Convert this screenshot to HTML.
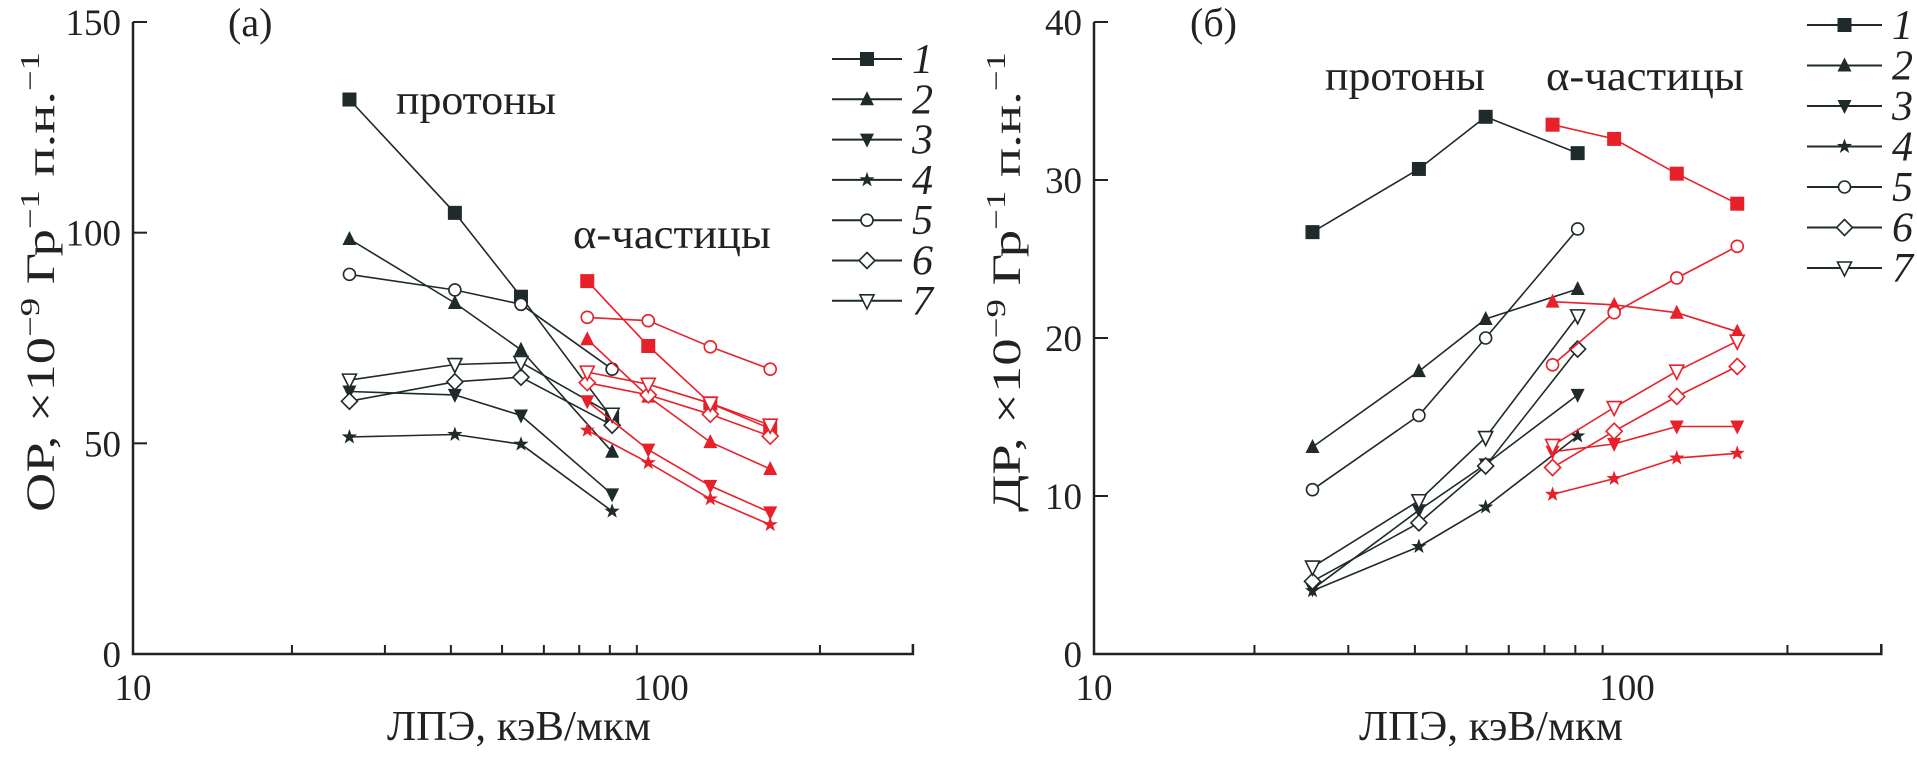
<!DOCTYPE html>
<html><head><meta charset="utf-8"><style>
html,body{margin:0;padding:0;background:#fff;}
svg{display:block;font-family:"Liberation Serif",serif;}
</style></head><body>
<svg id="chart" width="1917" height="761" viewBox="0 0 1917 761"></svg>
<script>
// shared x data (LET, keV/um)
const letProtons = [25.7, 40.7, 54.3, 80.8];
const letAlpha = [72.5, 94.6, 124, 161];
const seriesLabels = ["1","2","3","4","5","6","7"];
const markerTypes = ["square","tri","tridown","star","circle","diamond","tridownopen"];
// panel a (OR)
const orProtons1 = [131.6, 104.7, 84.8, 56];
const orProtons2 = [98.5, 83.3, 72.2, 48.0];
const orProtons3 = [62.3, 61.5, 56.6, 37.9];
const orProtons4 = [51.5, 52.1, 49.8, 33.9];
const orProtons5 = [90.1, 86.4, 83.0, 67.6];
const orProtons6 = [60.0, 64.6, 65.7, 54.3];
const orProtons7 = [65.0, 68.7, 69.2, 56.9];
const orAlpha1 = [88.5, 73.1, 59.5, 53.5];
const orAlpha2 = [74.7, 61.1, 50.3, 43.9];
const orAlpha3 = [60.0, 48.5, 39.9, 33.6];
const orAlpha4 = [53.1, 45.4, 36.8, 30.7];
const orAlpha5 = [79.9, 79.1, 72.9, 67.6];
const orAlpha6 = [64.4, 61.5, 56.9, 51.7];
const orAlpha7 = [66.9, 64.0, 59.5, 54.3];
const orTicks = [0, 50, 100, 150];
// panel b (DR)
const drProtons1 = [26.7, 30.7, 34.0, 31.7];
const drProtons2 = [13.1, 17.9, 21.2, 23.1];
const drProtons3 = [4.1, 9.1, 12.0, 16.4];
const drProtons4 = [4.0, 6.8, 9.3, 13.8];
const drProtons5 = [10.4, 15.1, 20.0, 26.9];
const drProtons6 = [4.6, 8.3, 11.9, 19.3];
const drProtons7 = [5.5, 9.7, 13.7, 21.4];
const drAlpha1 = [33.5, 32.6, 30.4, 28.5];
const drAlpha2 = [22.3, 22.1, 21.6, 20.4];
const drAlpha3 = [12.8, 13.3, 14.4, 14.4];
const drAlpha4 = [10.1, 11.1, 12.4, 12.7];
const drAlpha5 = [18.3, 21.6, 23.8, 25.8];
const drAlpha6 = [11.8, 14.1, 16.3, 18.2];
const drAlpha7 = [13.2, 15.6, 17.9, 19.8];
const drTicks = [0, 10, 20, 30, 40];
const xMinorTicks = [20,30,40,50,60,70,80,90,200,300];
const xLabels = [10, 100];

const NS = "http://www.w3.org/2000/svg";
const svg = document.getElementById("chart");
const BLK = "#1f2a2a", RED = "#e8202a";
function mk(tag, attrs, parent) {
  const e = document.createElementNS(NS, tag);
  for (const k in attrs) e.setAttribute(k, attrs[k]);
  (parent || svg).appendChild(e);
  return e;
}
function marker(g, type, x, y, col) {
  const s = 7;
  let e;
  if (type === "square") e = mk("rect", {x:x-s, y:y-s, width:2*s, height:2*s, fill:col}, g);
  else if (type === "tri") e = mk("polygon", {points:`${x},${y-s-1} ${x-s},${y+s-1} ${x+s},${y+s-1}`, fill:col}, g);
  else if (type === "tridown") e = mk("polygon", {points:`${x-s},${y-s+1} ${x+s},${y-s+1} ${x},${y+s+1}`, fill:col}, g);
  else if (type === "tridownopen") e = mk("polygon", {points:`${x-s},${y-s+1} ${x+s},${y-s+1} ${x},${y+s+1}`, fill:"#fff", stroke:col, "stroke-width":1.6}, g);
  else if (type === "circle") e = mk("circle", {cx:x, cy:y, r:s-1, fill:"#fff", stroke:col, "stroke-width":1.6}, g);
  else if (type === "diamond") e = mk("polygon", {points:`${x},${y-s-1} ${x+s+1},${y} ${x},${y+s+1} ${x-s-1},${y}`, fill:"#fff", stroke:col, "stroke-width":1.6}, g);
  else if (type === "star") {
    let p = [];
    for (let i=0;i<10;i++){const r=i%2?3.2:8;const a=-Math.PI/2+i*Math.PI/5;p.push((x+r*Math.cos(a)).toFixed(1)+","+(y+r*Math.sin(a)).toFixed(1));}
    e = mk("polygon", {points:p.join(" "), fill:col}, g);
  }
  
  
}
function panel(cfg) {
  const g = mk("g", {});
  
  
  const X = v => cfg.x0 + cfg.dec * Math.log10(v / 10);
  const Y = v => cfg.y0 - (cfg.y0 - cfg.yTop) * v / cfg.yMax;
  const xEnd = X(300);
  const ax = mk("path", {d:`M${cfg.x0},${cfg.yTop} V${cfg.y0} H${xEnd} V${cfg.y0-10}`, fill:"none", stroke:"#222", "stroke-width":2.5}, g);
  
  
  cfg.ticks.forEach(t => {
    const y = Y(t);
    mk("line", {x1:cfg.x0, x2:cfg.x0+14, y1:y, y2:y, stroke:"#222", "stroke-width":2}, g);
    const tx = mk("text", {x:cfg.x0-12, y:y+13, "text-anchor":"end", "font-size":37, fill:"#222"}, g);
    tx.textContent = t;
    
    
  });
  xMinorTicks.forEach(t => {
    mk("line", {x1:X(t), x2:X(t), y1:cfg.y0, y2:cfg.y0-9, stroke:"#222", "stroke-width":2}, g);
  });
  xLabels.forEach(t => {
    const tx = mk("text", {x:X(t), y:cfg.y0+46, "text-anchor":"middle", "font-size":37, fill:"#222"}, g);
    tx.textContent = t;
    
    
  });
  const xt = mk("text", {x:cfg.xTitleX-132, y:740, "font-size":42, fill:"#222", textLength:264, lengthAdjust:"spacingAndGlyphs"}, g);
  xt.textContent = "ЛПЭ, кэВ/мкм";
  
  
  const yt = mk("text", {x:-230, y:0, transform:`translate(${cfg.yTitleX},282) rotate(-90)`, "font-size":40, fill:"#222", textLength:460, lengthAdjust:"spacingAndGlyphs"}, g);
  yt.innerHTML = cfg.yTitle + ", ×10<tspan dy=\"-15\" font-size=\"27\">−9</tspan><tspan dy=\"15\"> Гр</tspan><tspan dy=\"-15\" font-size=\"27\">−1</tspan><tspan dy=\"15\"> п.н.</tspan><tspan dy=\"-15\" font-size=\"27\">−1</tspan>";
  
  
  const pl = mk("text", {x:cfg.panelX, y:36, "font-size":40, fill:"#222"}, g);
  pl.textContent = cfg.panelLabel;
  
  
  const p1 = mk("text", {x:cfg.protX, y:cfg.protY, "font-size":42, fill:"#222", textLength:160, lengthAdjust:"spacingAndGlyphs"}, g);
  p1.textContent = "протоны";
  
  
  const p2 = mk("text", {x:cfg.alphaX, y:cfg.alphaY, "font-size":42, fill:"#222", textLength:198, lengthAdjust:"spacingAndGlyphs"}, g);
  p2.textContent = "α-частицы";
  
  
  [[cfg.prot, letProtons, BLK, "protons"], [cfg.alpha, letAlpha, RED, "alpha"]].forEach(([sets, xs, col, nm]) => {
    sets.forEach((vals, i) => {
      const pts = vals.map((v, j) => X(xs[j]).toFixed(1) + "," + Y(v).toFixed(1)).join(" ");
      const pl = mk("polyline", {points:pts, fill:"none", stroke:col, "stroke-width":1.6}, g);
      
      
    });
    sets.forEach((vals, i) => vals.forEach((v, j) => marker(g, markerTypes[i], X(xs[j]), Y(v), col)));
  });
  seriesLabels.forEach((lab, i) => {
    const y = cfg.legY0 + i * cfg.legDy;
    const lg = mk("g", {}, g);
    
    
    mk("line", {x1:cfg.legX1, x2:cfg.legX2, y1:y, y2:y, stroke:BLK, "stroke-width":2}, lg);
    marker(lg, markerTypes[i], (cfg.legX1+cfg.legX2)/2, y, BLK);
    const t = mk("text", {x:cfg.legX2+10, y:y+14, "font-size":42, "font-style":"italic", fill:"#222"}, lg);
    t.textContent = lab;
  });
}
panel({name:"panel-a", x0:133, dec:528, y0:654, yTop:22, yMax:150, ticks:orTicks, yTitle:"ОР",
  yTitleX:54, xTitleX:519, panelX:228, panelLabel:"(а)", protX:396, protY:114, alphaX:573, alphaY:248,
  prot:[orProtons1,orProtons2,orProtons3,orProtons4,orProtons5,orProtons6,orProtons7],
  alpha:[orAlpha1,orAlpha2,orAlpha3,orAlpha4,orAlpha5,orAlpha6,orAlpha7],
  legX1:832, legX2:902, legY0:59, legDy:40.3});
panel({name:"panel-b", x0:1094, dec:533, y0:654, yTop:22, yMax:40, ticks:drTicks, yTitle:"ДР",
  yTitleX:1020, xTitleX:1491, panelX:1190, panelLabel:"(б)", protX:1325, protY:90, alphaX:1546, alphaY:90,
  prot:[drProtons1,drProtons2,drProtons3,drProtons4,drProtons5,drProtons6,drProtons7],
  alpha:[drAlpha1,drAlpha2,drAlpha3,drAlpha4,drAlpha5,drAlpha6,drAlpha7],
  legX1:1807, legX2:1882, legY0:25, legDy:40.5});
</script>
</body></html>
